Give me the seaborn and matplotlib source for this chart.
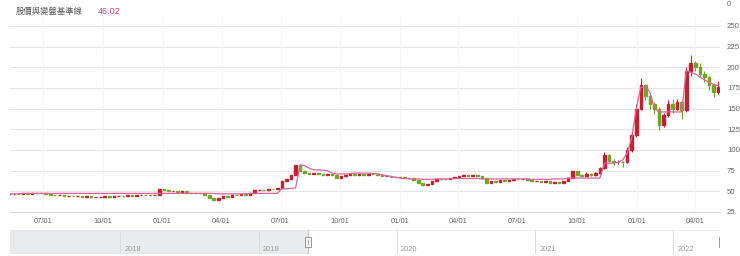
import numpy as np
import pandas as pd
import matplotlib
matplotlib.use("Agg")
import matplotlib.pyplot as plt
import matplotlib.dates as mdates
from matplotlib.patches import Rectangle
import seaborn as sns

# ---------------- data ----------------
title_text = "股價與變盤基準線"
title_value = "46.02"

first_week = "2019-05-10"          # weekly candles
closes = [
    46.5, 47, 46.5, 47.5, 47, 48, 47.5, 47.5, 46.5, 46,
    45, 45.5, 44.5, 44.5, 44, 44.5, 43.5, 44, 43, 43.5,
    43.5, 44, 43.5, 44, 44.5, 44, 45, 44.5, 45, 45.5,
    45, 45.5, 46, 53, 51, 50, 50.5, 49.5, 50, 48.5,
    48.5, 48, 47.5, 46, 42, 40, 41.5, 44, 43.5, 45.5,
    45, 46.5, 46, 47.5, 51, 52, 51.5, 53, 52.5, 54,
    62, 65, 70, 82, 75, 72, 71, 72, 71, 70,
    70.5, 70, 66, 68, 70, 71, 70, 71, 70, 71,
    70.5, 70, 68, 68.5, 67.5, 67, 67.5, 66, 66.5, 64,
    60, 58, 58.5, 63, 64.5, 65, 64.5, 66, 67, 69,
    70, 69, 69.5, 68, 66, 60, 62, 61.5, 63.5, 63,
    64, 65, 64.5, 65, 64, 62.5, 63, 61.5, 62, 60.5,
    61, 60.5, 63, 66, 75, 70, 69, 71, 70, 72,
    78, 94, 87, 85, 86, 85, 100, 118, 150, 178,
    165, 155, 150, 130, 142, 155, 150, 158, 148, 195,
    205, 200, 192, 188, 178, 170, 176,
]
first_open = 46.5

# intraweek highs / lows of the volatile stretch (weeks 126 .. 156)
wick_start = 126
wick_highs = [71, 73, 72, 73, 80, 97, 95, 89, 88, 87, 103, 122, 155, 187, 180,
              168, 158, 152, 145, 160, 162, 162, 160, 200, 215, 208, 205, 195,
              190, 180, 184]
wick_lows = [68, 68, 69, 69, 71, 77, 85, 82, 83, 80, 84, 98, 116, 148, 160,
             150, 144, 124, 128, 140, 145, 148, 138, 146, 190, 196, 188, 182,
             173, 164, 168]

base_line = [
    47, 47, 47, 47.5, 47.5, 47.5, 47.5, 47.5, 47.5, 47.5,
    47.5, 47.5, 47.5, 47.5, 47.5, 47.5, 47.5, 47.5, 47.5, 47.5,
    47.5, 47.5, 47.5, 47.5, 47.5, 47.5, 47.5, 47.5, 47.5, 47.5,
    47.5, 47.5, 47.5, 47.5, 47.5, 47.5, 47.5, 47.5, 47.5, 47.5,
    47.5, 47.5, 47.5, 47.5, 47.5, 47.5, 47, 47, 47, 47,
    47, 47, 47, 47.5, 47.5, 47.5, 47.5, 47.5, 47.5, 47.5,
    53, 53, 53.5, 54, 82, 81, 78, 76, 76, 75.5,
    75, 72, 71, 71, 71, 71.5, 72, 72, 72, 72,
    71.5, 71, 70, 69, 68, 67, 66, 65.5, 65, 65,
    65, 64.5, 64.5, 64.5, 65, 65, 65, 65, 65.5, 65.5,
    65.5, 65.5, 65.5, 65.5, 65, 65, 65, 65, 65, 65,
    65, 65, 65, 65, 65, 64.5, 64.5, 64.5, 64.5, 64.5,
    65, 65, 65, 66, 66, 66, 66, 66, 66, 66,
    66, 84, 84, 84, 85, 88, 96, 115, 150, 176,
    176, 170, 150, 146, 146, 146, 146, 146, 146, 196,
    194, 192, 188, 185, 182, 179, 178,
]

y_ticks = [25, 50, 75, 100, 125, 150, 175, 200, 225, 250]
x_tick_dates = ["2019-07-01", "2019-10-01", "2020-01-01", "2020-04-01",
                "2020-07-01", "2020-10-01", "2021-01-01", "2021-04-01",
                "2021-07-01", "2021-10-01", "2022-01-01", "2022-04-01"]
x_tick_labels = ["07/01", "10/01", "01/01", "04/01", "07/01", "10/01",
                 "01/01", "04/01", "07/01", "10/01", "01/01", "04/01"]
nav_years = ["2018", "2019", "2020", "2021", "2022"]
view_start, view_end = "2019-05-11", "2022-05-09"
nav_start, nav_end = "2017-03-15", "2022-05-05"

# ---------------- build frame ----------------
dates = pd.date_range(first_week, periods=len(closes), freq="7D")
opens = [first_open] + closes[:-1]
df = pd.DataFrame({"date": dates, "open": opens, "close": closes, "base": base_line})
df["up"] = df["close"] >= df["open"]

RED = "#c0232f"
GREEN = "#74a52a"
PINK = "#e0629d"
GRID = "#e6e6e6"
TXT = "#666666"

sns.set_theme(style="white")
plt.rcParams["font.family"] = ["Liberation Sans", "Noto Sans CJK TC", "DejaVu Sans"]

W, H = 740, 256
fig = plt.figure(figsize=(W / 100, H / 100), dpi=100)
fig.patch.set_facecolor("white")

ax = fig.add_axes([10 / W, 44 / H, 710 / W, 196 / H])
ax.set_facecolor("white")
ax.set_xlim(pd.Timestamp(view_start), pd.Timestamp(view_end))
ax.set_ylim(25, 262)

# grid
for v in y_ticks[1:]:
    ax.axhline(v, color=GRID, lw=0.8, zorder=0)
for d in x_tick_dates:
    ax.axvline(pd.Timestamp(d), color="#f5f5f5", lw=0.8, zorder=0)

colors = [RED if u else GREEN for u in df["up"]]

# wicks (volatile stretch)
wk = df.iloc[wick_start:wick_start + len(wick_highs)]
ax.vlines(wk["date"], wick_lows, wick_highs,
          colors=colors[wick_start:wick_start + len(wick_highs)], lw=0.8, zorder=3)

# candle bodies
bottoms = df[["open", "close"]].min(axis=1)
heights = (df["close"] - df["open"]).abs()
ax.bar(df["date"], heights, bottom=bottoms, width=4.0, color=colors,
       edgecolor=colors, linewidth=1.0, zorder=3)

# base line
sns.lineplot(data=df, x="date", y="base", ax=ax, color=PINK, lw=0.9, zorder=4)

ax.set_xlabel("")
ax.set_ylabel("")
for s in ["top", "left", "right"]:
    ax.spines[s].set_visible(False)
ax.spines["bottom"].set_color("#d8d8d8")
ax.spines["bottom"].set_linewidth(0.8)

ax.yaxis.tick_right()
ax.set_yticks(y_ticks)
ax.set_yticklabels([str(v) for v in y_ticks])
ax.tick_params(axis="y", length=0, pad=5, labelsize=5.6, labelcolor=TXT)
ax.set_xticks([pd.Timestamp(d) for d in x_tick_dates])
ax.set_xticklabels(x_tick_labels)
ax.tick_params(axis="x", length=0, pad=4, labelsize=5.4, labelcolor=TXT)
for lab in ax.get_yticklabels():
    lab.set_horizontalalignment("left")

# title
fig.text(16 / W, 1 - 11 / H, title_text, fontsize=6.0, color="#555555",
         va="center", ha="left", family=["Noto Sans CJK TC", "DejaVu Sans"])
fig.text(98 / W, 1 - 11 / H, title_value, fontsize=6.6, color="#c2447f",
         va="center", ha="left")
fig.text(727 / W, 1 - 1 / H, "0", fontsize=5.6, color=TXT, va="top", ha="left")

# ---------------- navigator ----------------
nav = fig.add_axes([10 / W, 2 / H, 710 / W, 24 / H])
nav.set_xlim(pd.Timestamp(nav_start), pd.Timestamp(nav_end))
nav.set_ylim(0, 1)
nav.set_xticks([])
nav.set_yticks([])
for s in nav.spines.values():
    s.set_visible(False)
nav.axvspan(pd.Timestamp(nav_start), pd.Timestamp(view_start), color="#e8ebee", zorder=0)
nav.axhline(0.0, color="#cfd3d6", lw=0.8)
nav.axhline(1.0, color="#e3e6e8", lw=0.6)
for y in nav_years:
    t = pd.Timestamp(f"{y}-01-01")
    nav.axvline(t, color="#dcdcdc", lw=0.7, zorder=1)
    nav.text(t + pd.Timedelta(days=12), 0.2, y, fontsize=5.4, color="#999999",
             va="center", ha="left")
for edge in [view_start, view_end]:
    t = pd.Timestamp(edge)
    nav.axvline(t, color="#c8c8c8", lw=0.8, zorder=2)
    x = mdates.date2num(t)
    w = 6.0 / 710 * (mdates.date2num(pd.Timestamp(nav_end)) - mdates.date2num(pd.Timestamp(nav_start)))
    nav.add_patch(Rectangle((x - w / 2, 0.3), w, 0.4, facecolor="#f2f2f2",
                            edgecolor="#9a9a9a", lw=0.7, zorder=3))
    nav.plot([x, x], [0.4, 0.6], color="#9a9a9a", lw=0.6, zorder=4)

fig.savefig("out.png", dpi=100)
